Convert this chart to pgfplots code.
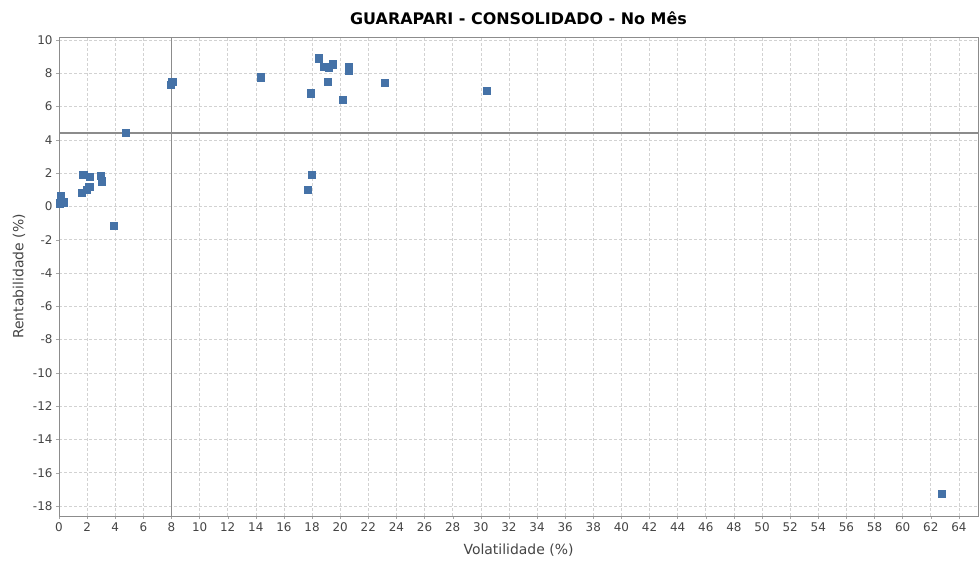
\documentclass[border=0pt]{standalone}
\usepackage{pgfplots}
\pgfplotsset{compat=1.18}
\usepackage{fontspec}
\setmainfont{DejaVu Sans}
\definecolor{pt}{HTML}{4572A7}
\definecolor{tk}{HTML}{444444}
\begin{document}
\begin{tikzpicture}
\path[use as bounding box] (0,0) rectangle (980bp,563bp);
\begin{axis}[
  at={(59bp,47bp)}, anchor=south west,
  scale only axis, width=919bp, height=479bp,
  xmin=0, xmax=65.36, ymin=-18.6, ymax=10.18,
  xtick={0,2,...,64}, ytick={-18,-16,...,10},
  /pgf/number format/assume math mode=true,
  tick label style={font=\fontsize{12}{13}\selectfont, text=tk},
  tick align=outside, tick pos=left,
  major tick length=3bp,
  every tick/.style={draw=gray!70},
  axis line style={draw=gray!90, line width=0.8pt},
  grid=major,
  major grid style={draw=gray!35, dash pattern=on 2.5bp off 2.5bp, line width=0.6pt},
  xlabel={Volatilidade (\%)}, ylabel={Rentabilidade (\%)},
  label style={font=\fontsize{14}{15}\selectfont, text=tk},
  xlabel style={yshift=-5bp},
  ylabel style={yshift=1bp},
  title={\textbf{GUARAPARI - CONSOLIDADO - No Mês}},
  title style={font=\fontsize{16}{18}\selectfont, yshift=3bp},
  clip=true,
]
\draw[gray!90, line width=1.8pt] (axis cs:8,-18.6) -- (axis cs:8,10.18);
\draw[gray!90, line width=1.8pt] (axis cs:0,4.41) -- (axis cs:65.36,4.41);
\addplot[only marks, mark=square*, mark size=3.6bp, mark options={fill=pt, draw=pt}] coordinates {
(0.12,0.65) (0.05,0.19) (0.30,0.25)
(1.72,1.89) (2.19,1.80) (2.95,1.84) (3.04,1.52)
(1.61,0.83) (1.97,0.99) (2.15,1.18)
(3.89,-1.17) (4.77,4.41)
(7.97,7.33) (8.05,7.50)
(14.37,7.76)
(17.92,6.80) (18.46,8.90) (18.86,8.40) (19.17,8.37) (19.46,8.55)
(20.58,8.40) (20.58,8.14) (19.13,7.50)
(20.17,6.40) (17.99,1.89) (17.71,0.99)
(23.19,7.43) (30.44,6.97)
(62.80,-17.28)
};
\end{axis}
\end{tikzpicture}
\end{document}
